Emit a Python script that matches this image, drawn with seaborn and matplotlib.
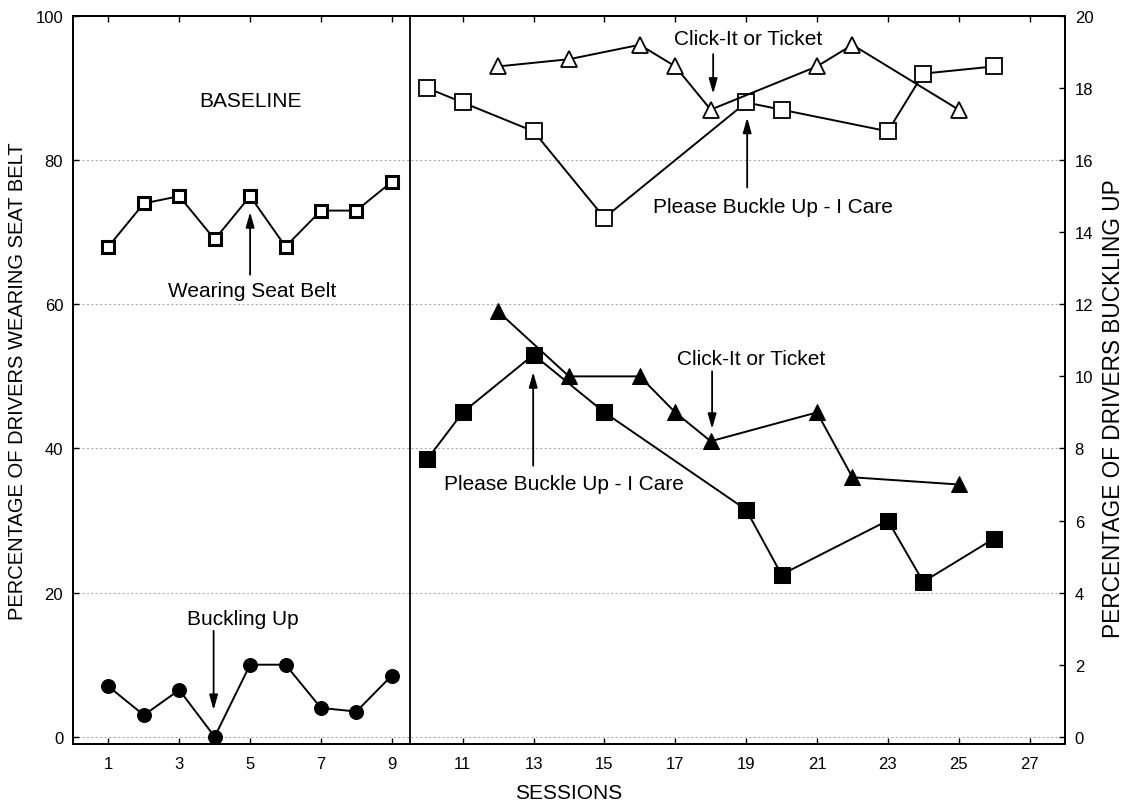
import matplotlib
matplotlib.use('Agg')
import matplotlib.pyplot as plt
import seaborn as sns
import pandas as pd

# Données
base_sessions = [1, 2, 3, 4, 5, 6, 7, 8, 9]
base_seatbelt = [68, 74, 75, 69, 75, 68, 73, 73, 77]          # axe gauche (%)
base_buckling = [1.4, 0.6, 1.3, 0.0, 2.0, 2.0, 0.8, 0.7, 1.7]  # axe droit (%)

sq_sessions = [10, 11, 13, 15, 19, 20, 23, 24, 26]
sq_seatbelt = [90, 88, 84, 72, 88, 87, 84, 92, 93]
sq_buckling = [7.7, 9.0, 10.6, 9.0, 6.3, 4.5, 6.0, 4.3, 5.5]

tri_sessions = [12, 14, 16, 17, 18, 21, 22, 25]
tri_seatbelt = [93, 94, 96, 93, 87, 93, 96, 87]
tri_buckling = [11.8, 10.0, 10.0, 9.0, 8.2, 9.0, 7.2, 7.0]

x_ticks = list(range(1, 28, 2))
left_ticks = [0, 20, 40, 60, 80, 100]
right_ticks = list(range(0, 21, 2))

sns.set_style('white')
plt.rcParams['font.family'] = ['Liberation Sans', 'DejaVu Sans']
plt.rcParams['text.color'] = 'black'
plt.rcParams['axes.labelcolor'] = 'black'

fig = plt.figure(figsize=(11.26, 8.04), dpi=100)
ax = fig.add_axes([0.0648, 0.0734, 0.881, 0.9055])
ax2 = ax.twinx()

df_base = pd.DataFrame({'Session': base_sessions, 'Ceinture': base_seatbelt, 'Bouclage': base_buckling})
df_sq = pd.DataFrame({'Session': sq_sessions, 'Ceinture': sq_seatbelt, 'Bouclage': sq_buckling})
df_tri = pd.DataFrame({'Session': tri_sessions, 'Ceinture': tri_seatbelt, 'Bouclage': tri_buckling})

# Ceinture portée (axe gauche) - symboles vides
sns.lineplot(data=df_base, x='Session', y='Ceinture', ax=ax, color='black', lw=1.4,
             marker='s', markersize=9, markerfacecolor='white', markeredgecolor='black',
             markeredgewidth=2.2)
sns.lineplot(data=df_sq, x='Session', y='Ceinture', ax=ax, color='black', lw=1.4,
             marker='s', markersize=11, markerfacecolor='white', markeredgecolor='black',
             markeredgewidth=1.3)
sns.lineplot(data=df_tri, x='Session', y='Ceinture', ax=ax, color='black', lw=1.4,
             marker='^', markersize=11, markerfacecolor='white', markeredgecolor='black',
             markeredgewidth=1.3)

# Bouclage (axe droit) - symboles pleins
sns.lineplot(data=df_base, x='Session', y='Bouclage', ax=ax2, color='black', lw=1.4,
             marker='o', markersize=10, markerfacecolor='black', markeredgecolor='black')
sns.lineplot(data=df_sq, x='Session', y='Bouclage', ax=ax2, color='black', lw=1.4,
             marker='s', markersize=11, markerfacecolor='black', markeredgecolor='black')
sns.lineplot(data=df_tri, x='Session', y='Bouclage', ax=ax2, color='black', lw=1.4,
             marker='^', markersize=11, markerfacecolor='black', markeredgecolor='black')

ax.set_xlim(0, 28)
ax.set_ylim(-1, 100)
ax2.set_ylim(-0.2, 20)
ax.set_xticks(x_ticks)
ax.set_yticks(left_ticks)
ax2.set_yticks(right_ticks)

for g in [0, 20, 40, 60, 80]:
    ax.axhline(g, color='#b0b0b0', lw=0.8, ls=(0, (2, 2)), zorder=0)
ax.axvline(9.5, color='black', lw=1.3)

ax.tick_params(axis='both', direction='in', length=4, width=1, labelsize=12, colors='black',
               top=True, bottom=True, left=True)
ax.tick_params(axis='x', pad=9)
ax.tick_params(axis='y', pad=7)
ax2.tick_params(axis='y', direction='in', length=4, width=1, labelsize=12, colors='black', pad=7)
for a in (ax, ax2):
    for s in a.spines.values():
        s.set_color('black')
        s.set_linewidth(1.3)

ax.set_xlabel('SESSIONS', fontsize=15, labelpad=8)
ax.set_ylabel('PERCENTAGE OF DRIVERS WEARING SEAT BELT', fontsize=14.5, labelpad=6)
ax2.set_ylabel('PERCENTAGE OF DRIVERS BUCKLING UP', fontsize=16.3)
ax2.yaxis.set_label_coords(1.037, 0.4615)

# Annotations
fs = 15
ax.text(5, 88.3, 'BASELINE', ha='center', va='center', fontsize=fs)
arrow = dict(arrowstyle='-|>,head_length=0.6,head_width=0.17', color='black', lw=1.3,
             mutation_scale=15, shrinkA=0, shrinkB=0)
ax.annotate('', xy=(5, 72.8), xytext=(5, 64.1), arrowprops=arrow)
ax.text(5.05, 61.9, 'Wearing Seat Belt', ha='center', va='center', fontsize=fs)
ax.annotate('', xy=(3.97, 3.7), xytext=(3.97, 14.7), arrowprops=arrow)
ax.text(4.8, 16.4, 'Buckling Up', ha='center', va='center', fontsize=fs)

ax.text(19.06, 96.9, 'Click-It or Ticket', ha='center', va='center', fontsize=fs)
ax.annotate('', xy=(18.07, 89.2), xytext=(18.07, 94.7), arrowprops=arrow)
ax.text(19.77, 73.5, 'Please Buckle Up - I Care', ha='center', va='center', fontsize=fs)
ax.annotate('', xy=(19.03, 85.9), xytext=(19.03, 76.2), arrowprops=arrow)

ax.text(19.15, 52.5, 'Click-It or Ticket', ha='center', va='center', fontsize=fs)
ax.annotate('', xy=(18.04, 42.7), xytext=(18.04, 50.7), arrowprops=arrow)
ax.text(13.85, 35.1, 'Please Buckle Up - I Care', ha='center', va='center', fontsize=fs)
ax.annotate('', xy=(12.99, 50.6), xytext=(12.99, 37.6), arrowprops=arrow)

plt.savefig('out.png', dpi=100)
